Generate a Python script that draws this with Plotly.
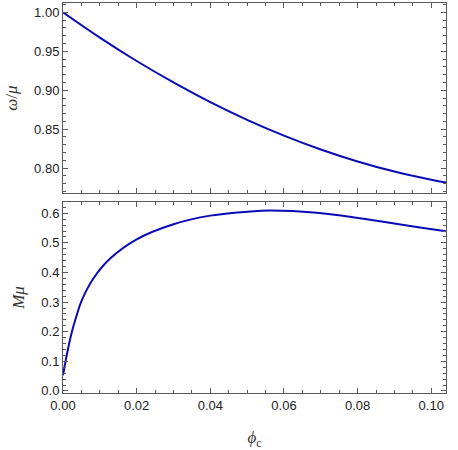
import plotly.graph_objects as go

# Top panel: omega/mu vs phi_c
phi_top = [0.0, 0.01, 0.02, 0.03, 0.04, 0.05, 0.06, 0.07, 0.08, 0.09, 0.10, 0.104]
omega_mu = [1.000, 0.9675, 0.9375, 0.9100, 0.8847, 0.8620, 0.8417, 0.8239, 0.8085, 0.7955, 0.7850, 0.7815]

# Bottom panel: M mu vs phi_c
phi_bot = [0.0, 0.001, 0.0024, 0.0037, 0.0051, 0.0082, 0.0128, 0.02, 0.03, 0.04, 0.0508,
           0.056, 0.0689, 0.0779, 0.087, 0.096, 0.104]
M_mu = [0.053, 0.120, 0.199, 0.255, 0.306, 0.379, 0.447, 0.512, 0.563, 0.592, 0.606,
        0.609, 0.602, 0.588, 0.571, 0.554, 0.539]

x_ticks = [0.0, 0.02, 0.04, 0.06, 0.08, 0.10]
top_ticks = [0.80, 0.85, 0.90, 0.95, 1.00]
bot_ticks = [0.0, 0.1, 0.2, 0.3, 0.4, 0.5, 0.6]

LINE = "#0a0ab4"
FRAME = "#5a5a5a"
TICKFONT = dict(family="Liberation Sans, Arial, sans-serif", size=13, color="#222222")
TITLEFONT = dict(family="Liberation Serif, DejaVu Serif, serif", size=17, color="#333333")

fig = go.Figure()
fig.add_trace(go.Scatter(x=phi_top, y=omega_mu, mode="lines",
                         line=dict(color=LINE, width=2, shape="spline", smoothing=1.2),
                         xaxis="x", yaxis="y", showlegend=False))
fig.add_trace(go.Scatter(x=phi_bot, y=M_mu, mode="lines",
                         line=dict(color=LINE, width=2, shape="spline", smoothing=1.2),
                         xaxis="x2", yaxis="y2", showlegend=False))

common = dict(showline=True, linecolor=FRAME, linewidth=1, mirror="allticks",
              ticks="inside", ticklen=5, tickwidth=1, tickcolor=FRAME,
              showgrid=False, zeroline=False, tickfont=TICKFONT)

fig.update_layout(
    width=458, height=450,
    margin=dict(l=63, r=12, t=3, b=57),
    plot_bgcolor="white", paper_bgcolor="white",
    xaxis=dict(domain=[0, 1], anchor="y", range=[0, 0.104], tickvals=x_ticks,
               showticklabels=False, matches="x2",
               minor=dict(dtick=0.005, tick0=0, ticklen=3, ticks="inside", tickcolor=FRAME),
               **common),
    yaxis=dict(domain=[0.5128, 1], anchor="x", range=[0.768, 1.012], tickvals=top_ticks,
               tickformat=".2f",
               minor=dict(dtick=0.01, tick0=0, ticklen=3, ticks="inside", tickcolor=FRAME),
               title=dict(text="<i>ω</i>/<i>μ</i>", font=TITLEFONT, standoff=12),
               **common),
    xaxis2=dict(domain=[0, 1], anchor="y2", range=[0, 0.104], tickvals=x_ticks,
                tickformat=".2f",
                minor=dict(dtick=0.005, tick0=0, ticklen=3, ticks="inside", tickcolor=FRAME),
                title=dict(text="<i>ϕ</i><sub>c</sub>", font=TITLEFONT, standoff=20),
                **common),
    yaxis2=dict(domain=[0, 0.4897], anchor="x2", range=[-0.007, 0.638], tickvals=bot_ticks,
                tickformat=".1f",
                minor=dict(dtick=0.02, tick0=0, ticklen=3, ticks="inside", tickcolor=FRAME),
                title=dict(text="<i>Mμ</i>", font=TITLEFONT, standoff=12),
                **common),
)

fig.write_html("out.html", config={"displayModeBar": False},
               post_script="document.body.style.margin='0';")
